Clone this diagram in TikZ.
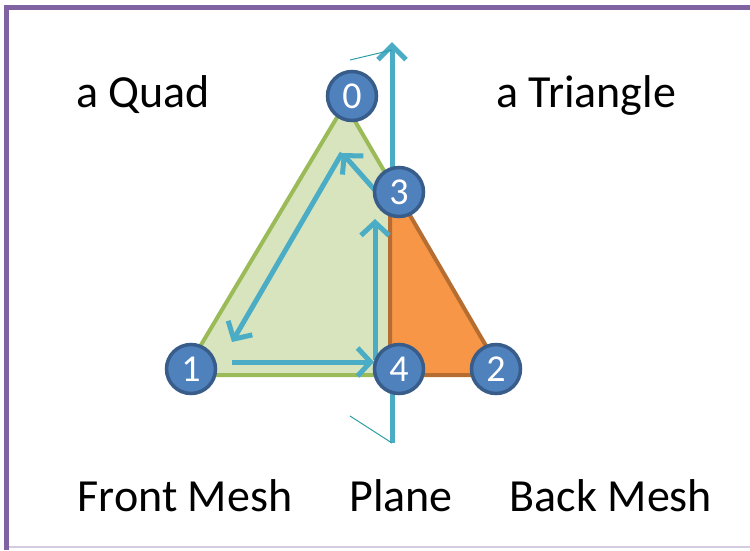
\documentclass[tikz,border=0pt]{standalone}
\usepackage{fontspec}
\setmainfont{Carlito}
\usetikzlibrary{
  positioning,
  arrows.meta,
  calc
}

\definecolor{quadfill}{HTML}{D7E4BD}
\definecolor{quadline}{HTML}{9BBB59}
\definecolor{trifill}{HTML}{F79646}
\definecolor{triline}{HTML}{B66D31}
\definecolor{planeblue}{HTML}{4BACC6}
\definecolor{vertfill}{HTML}{4F81BD}
\definecolor{vertline}{HTML}{385D8A}
\definecolor{framepurple}{HTML}{8064A2}
\definecolor{framelight}{HTML}{D4CCE0}
\definecolor{thinteal}{HTML}{2A9FA3}

\begin{document}
\begin{tikzpicture}[x=1pt, y=-1pt,
  caption/.style={font=\fontsize{46}{50}\selectfont, inner sep=0pt, anchor=base},
  vertex/.style={circle, draw=vertline, fill=vertfill, line width=3.5pt, minimum size=49pt, inner sep=0pt, text=white, font=\fontsize{38}{40}\selectfont},
  quad/.style={draw=quadline, fill=quadfill, line width=4pt, line join=round},
  tri/.style={draw=triline, fill=trifill, line width=4pt, line join=round},
  walk/.style={draw=planeblue, line width=5pt, -{Straight Barb[length=13pt, width=28pt, line width=5pt]}},
  plane/.style={draw=planeblue, line width=5pt, -{Straight Barb[length=14pt, width=28pt, line width=5pt]}},
  edge/.style={draw=thinteal, line width=1pt}
]
\useasboundingbox (0,0) rectangle (750,550);

% Frame
\draw[framelight, line width=1.5pt] (6,547) -- (750,547);
\draw[framepurple, line width=5pt] (6,550) -- (6,7.5) -- (750,7.5);

% Plane
\coordinate (planebot) at (392,443);
\coordinate (planetop) at (392,42);
\coordinate (edgetop) at (350,60);
\coordinate (edgebot) at (350,416);
\draw[plane] (planebot) -- (planetop);
\draw[edge] (edgetop) -- (392,50);
\draw[edge] (edgebot) -- (planebot);

% Meshes
\coordinate (apex) at (345,104);
\coordinate (left) at (183,375);
\coordinate (right) at (503,375);
\coordinate (cuttop) at (390,181);
\coordinate (cutbot) at (390,375);
\draw[quad] (apex) -- (left) -- (cutbot) -- (cuttop) -- cycle;
\draw[tri] (cuttop) -- (cutbot) -- (right) -- cycle;

% Walk round the quad
\coordinate (w3) at (381,197);
\coordinate (w0) at (342,153);
\coordinate (w1) at (232,342);
\coordinate (w1b) at (232,362);
\coordinate (w4) at (374,362);
\coordinate (w4b) at (375,360);
\coordinate (w3b) at (375,219);
\draw[walk] (w3) -- (w0);
\draw[walk] (w0) -- (w1);
\draw[walk] (w1b) -- (w4);
\draw[walk] (w4b) -- (w3b);

% Vertices
\node[vertex] (v0) at (352,96) {0};
\node[vertex] (v1) at (191,369) {1};
\node[vertex] (v2) at (496,369) {2};
\node[vertex] (v3) at (399,192) {3};
\node[vertex] (v4) at (399,369) {4};

% Labels
\node[caption] (quadlabel) at (143,107) {a Quad};
\node[caption] (trilabel) at (586,107) {a Triangle};
\node[caption] (frontlabel) at (185,511) {Front Mesh};
\node[caption] (planelabel) at (401,511) {Plane};
\node[caption] (backlabel) at (611,511) {Back Mesh};

\end{tikzpicture}
\end{document}
